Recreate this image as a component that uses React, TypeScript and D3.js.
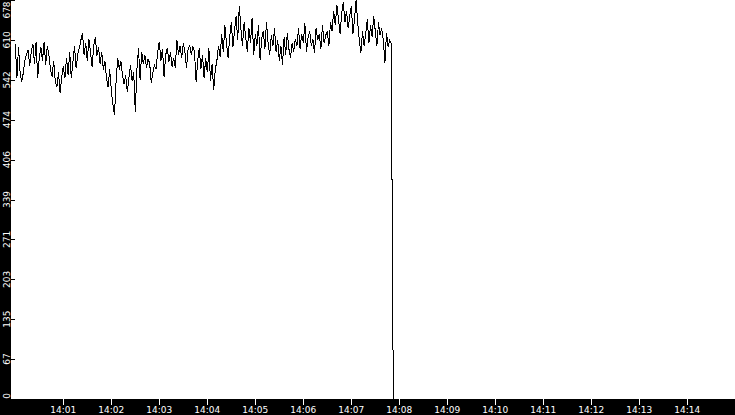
import React, { useRef, useEffect } from 'react';
import * as d3 from 'd3';

// readings every 2 seconds starting at 14:00:00
const START = new Date(2020, 0, 1, 14, 0, 0);
const END = new Date(2020, 0, 1, 14, 15, 0);
const STEP_SECONDS = 2;

const values: number[] = [
  604, 545, 598,
  555, 539, 554, 576,
  585, 593, 566, 590, 603, 570, 607,
  545, 580, 598, 575, 607, 568, 600, 585,
  560, 548, 575, 540, 530, 555, 520, 548, 565, 545,
  580, 550, 590, 545, 572, 600, 562, 585,
  596, 610, 622, 585, 605, 575, 612, 590, 565, 600, 615, 583, 598, 570, 590, 560, 575,
  545, 530, 560, 525, 500, 483, 540,
  580, 560, 575, 550,
  535, 550, 522, 545,
  568, 540, 555, 488, 560, 596,
  542, 590, 570,
  585, 563, 578, 570, 537, 555,
  567, 560, 590, 607, 575, 595,
  547, 585, 596, 573, 590, 565, 580,
  563, 610, 585, 600, 580, 605, 590, 563, 595,
  601, 585, 598, 590, 539, 575,
  596, 560, 585, 545, 580, 555, 596, 540, 570, 525, 560,
  575, 600, 582, 620, 590, 635, 605, 580, 615, 640, 598, 625, 650, 610, 667, 630,
  600, 640, 615, 590, 630, 605, 648, 585, 620, 600, 635, 576, 612, 625, 595, 640, 605, 585, 618, 600, 630,
  590, 610, 575, 600, 568, 615, 585, 622, 595, 580, 605, 590, 612,
  600, 630, 595, 620, 605, 638, 590, 615, 625, 600, 612, 588, 630, 610, 620, 595, 635, 605, 618, 625, 600,
  640, 625, 660, 635, 670, 645, 620, 655, 675, 640, 660, 630, 650, 668, 620, 645,
  678, 640, 610, 588, 625, 600,
  620, 645, 605, 635, 615, 650, 625, 600, 640, 618, 630, 610, 571,
  622, 598, 610, 604,
];

// the feed drops out right after the last regular reading
const tailSeconds = [471.2, 472.5];
const tailValues = [292, 0];

const Y_MAX = 678;
const yTickValues = d3.range(0, 11).map((k) => (Y_MAX * k) / 10);

const WIDTH = 735;
const HEIGHT = 415;

export default function App() {
  const svgRef = useRef<SVGSVGElement>(null);

  useEffect(() => {
    if (!svgRef.current) return;
    const svg = d3.select(svgRef.current);
    svg.selectAll('*').remove();

    const left = 15.3;
    const bottom = 399;
    const font = '"DejaVu Sans", sans-serif';

    const x = d3.scaleTime().domain([START, END]).range([left, left + 720]);
    const y = d3.scaleLinear().domain([0, Y_MAX]).range([bottom, 0]);

    const points: [Date, number][] = values.map((v, i) => [
      new Date(START.getTime() + i * STEP_SECONDS * 1000),
      v,
    ]);
    tailSeconds.forEach((s, i) => {
      points.push([new Date(START.getTime() + s * 1000), tailValues[i]]);
    });

    const line = d3
      .line<[Date, number]>()
      .x((d) => x(d[0]))
      .y((d) => y(d[1]));

    svg
      .append('rect')
      .attr('width', WIDTH)
      .attr('height', HEIGHT)
      .attr('fill', '#fff');

    svg
      .append('path')
      .datum(points)
      .attr('fill', 'none')
      .attr('stroke', '#000')
      .attr('stroke-width', 1)
      .attr('shape-rendering', 'crispEdges')
      .attr('d', line);

    // left axis strip
    svg
      .append('rect')
      .attr('x', 0)
      .attr('y', 0)
      .attr('width', 11)
      .attr('height', HEIGHT)
      .attr('fill', '#000');

    const yAxis = svg.append('g');
    yTickValues.forEach((v) => {
      const ty = Math.round(y(v)) + 0.5;
      yAxis
        .append('line')
        .attr('x1', 11)
        .attr('x2', 15)
        .attr('y1', ty)
        .attr('y2', ty)
        .attr('stroke', '#000');
      const cy = Math.min(Math.max(y(v), 10), 396);
      yAxis
        .append('text')
        .attr('transform', `translate(9.5,${cy}) rotate(-90)`)
        .attr('text-anchor', 'middle')
        .attr('fill', '#fff')
        .attr('font-family', font)
        .attr('font-size', 9)
        .text(Math.floor(v));
    });

    // bottom axis strip
    svg
      .append('rect')
      .attr('x', 0)
      .attr('y', bottom)
      .attr('width', WIDTH)
      .attr('height', HEIGHT - bottom)
      .attr('fill', '#000');

    const xAxis = svg.append('g');
    const xTicks = x.ticks(d3.timeMinute.every(1)!).filter((t) => x(t) > left + 1 && x(t) < WIDTH - 5);
    const fmt = d3.timeFormat('%H:%M');
    xTicks.forEach((t) => {
      const tx = Math.round(x(t)) + 0.5;
      xAxis
        .append('line')
        .attr('x1', tx)
        .attr('x2', tx)
        .attr('y1', bottom)
        .attr('y2', bottom + 6)
        .attr('stroke', '#fff');
      xAxis
        .append('text')
        .attr('x', x(t))
        .attr('y', 413)
        .attr('text-anchor', 'middle')
        .attr('fill', '#fff')
        .attr('font-family', font)
        .attr('font-size', 9)
        .text(fmt(t));
    });
  }, []);

  return (
    <>
      <style>{`body{margin:0}`}</style>
      <svg ref={svgRef} width={WIDTH} height={HEIGHT} style={{ display: 'block' }} />
    </>
  );
}
